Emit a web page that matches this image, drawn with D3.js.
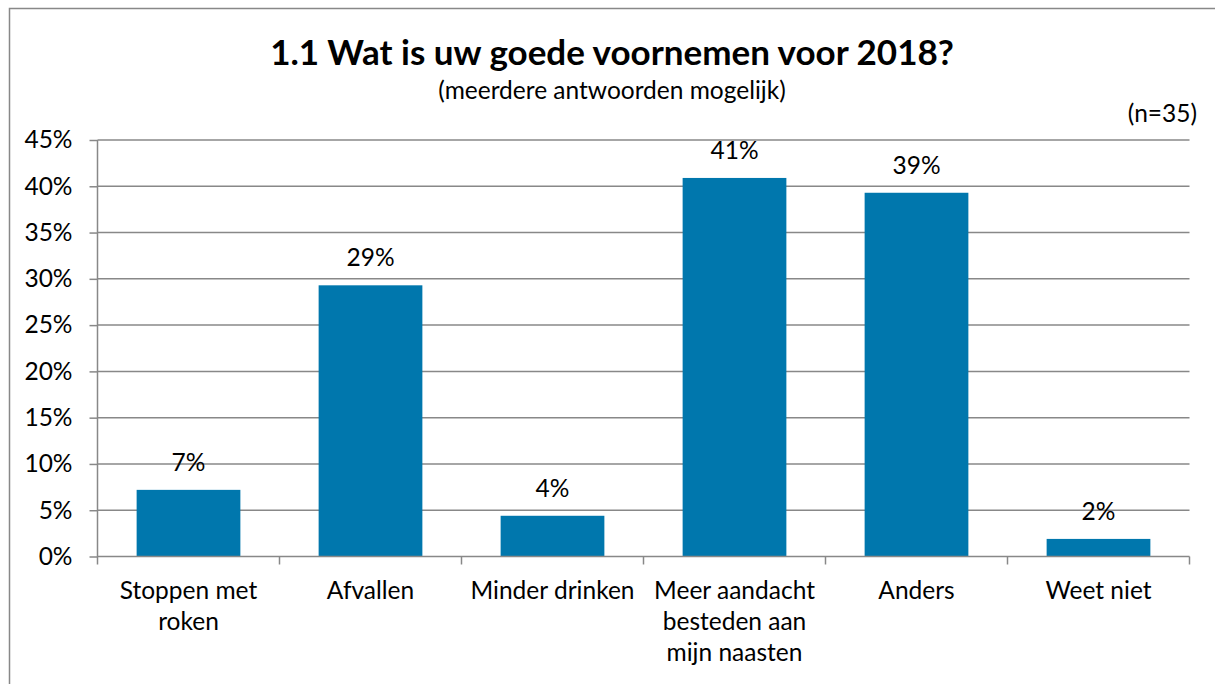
<!DOCTYPE html>
<html>
<head>
<meta charset="utf-8">
<script src="https://cdn.jsdelivr.net/npm/d3@7"></script>
<style>
  body { margin: 0; background: #fff; }
  svg { font-family: Lato, "Open Sans", sans-serif; }
</style>
</head>
<body>
<div id="chart"></div>
<script>
var categories = [
	['Stoppen met', 'roken'],
	['Afvallen'],
	['Minder drinken'],
	['Meer aandacht', 'besteden aan', 'mijn naasten'],
	['Anders'],
	['Weet niet']
];
var values = [7.2, 29.3, 4.4, 40.9, 39.3, 1.9];
var yTicks = [0, 5, 10, 15, 20, 25, 30, 35, 40, 45];

var width = 1215,
	height = 684;
var plot = {left: 97.5, right: 1189.5, top: 140, bottom: 556.5};
var fontSize = 24.5;

var svg = d3.select('#chart')
		.append('svg')
		.attr('width', width)
		.attr('height', height)

// chart frame (right and bottom edges fall outside the picture)
svg.append('rect')
	.attr('x', 9.5).attr('y', 8.5)
	.attr('width', 1220).attr('height', 700)
	.attr('fill', 'none')
	.attr('stroke', '#888')
	.attr('stroke-width', 1.5)

svg.append('text')
	.attr('x', 612).attr('y', 65)
	.attr('text-anchor', 'middle')
	.attr('font-size', 35)
	.attr('font-weight', 'bold')
	.text('1.1 Wat is uw goede voornemen voor 2018?')

svg.append('text')
	.attr('x', 612).attr('y', 99)
	.attr('text-anchor', 'middle')
	.attr('font-size', fontSize)
	.text('(meerdere antwoorden mogelijk)')

svg.append('text')
	.attr('x', 1197).attr('y', 122)
	.attr('text-anchor', 'end')
	.attr('font-size', fontSize)
	.text('(n=35)')

var x = d3.scaleBand()
		.domain(d3.range(values.length))
		.range([plot.left, plot.right])
		.paddingInner(0.43)
		.paddingOuter(0.215)

var y = d3.scaleLinear()
		.domain([0, 45])
		.range([plot.bottom, plot.top])

// y ticks
var yAxis = svg.append('g')
	.attr('transform', `translate(${plot.left}, 0)`)
	.call(d3.axisLeft(y).tickValues(yTicks).tickSize(8).tickFormat(d => d + '%'))

yAxis.select('.domain').remove()
yAxis.selectAll('.tick line').attr('stroke', '#888').attr('stroke-width', 1.5)
yAxis.selectAll('.tick text')
	.attr('font-size', fontSize)
	.attr('fill', '#000')
	.attr('x', -25)
	.attr('font-family', 'Lato, sans-serif')

// gridlines
svg.append('g')
	.selectAll('line')
	.data(yTicks.filter(d => d > 0))
	.enter()
	.append('line')
	.attr('x1', plot.left).attr('x2', plot.right)
	.attr('y1', d => y(d)).attr('y2', d => y(d))
	.attr('stroke', '#888')
	.attr('stroke-width', 1.5)

// bars
svg.append('g')
	.selectAll('rect')
	.data(values)
	.enter()
	.append('rect')
	.attr('x', (d, i) => x(i))
	.attr('width', x.bandwidth())
	.attr('y', d => y(d))
	.attr('height', d => y(0) - y(d))
	.attr('fill', '#0077ad')

svg.append('g')
	.selectAll('text')
	.data(values)
	.enter()
	.append('text')
	.attr('x', (d, i) => x(i) + x.bandwidth() / 2)
	.attr('y', d => y(d) - 19)
	.attr('text-anchor', 'middle')
	.attr('font-size', fontSize)
	.text(d => Math.round(d) + '%')

// x axis
var step = (plot.right - plot.left) / values.length;
svg.append('line')
	.attr('x1', plot.left).attr('x2', plot.right)
	.attr('y1', plot.bottom).attr('y2', plot.bottom)
	.attr('stroke', '#888').attr('stroke-width', 1.5)
svg.append('line')
	.attr('x1', plot.left).attr('x2', plot.left)
	.attr('y1', plot.top).attr('y2', plot.bottom + 8)
	.attr('stroke', '#888').attr('stroke-width', 1.5)

svg.append('g')
	.selectAll('line')
	.data(d3.range(1, values.length + 1))
	.enter()
	.append('line')
	.attr('x1', d => plot.left + d * step).attr('x2', d => plot.left + d * step)
	.attr('y1', plot.bottom).attr('y2', plot.bottom + 8)
	.attr('stroke', '#888').attr('stroke-width', 1.5)

var labels = svg.append('g')
	.selectAll('text')
	.data(categories)
	.enter()
	.append('text')
	.attr('text-anchor', 'middle')
	.attr('font-size', fontSize)
	.attr('transform', (d, i) => `translate(${x(i) + x.bandwidth() / 2}, 599)`)

labels.selectAll('tspan')
	.data(d => d)
	.enter()
	.append('tspan')
	.attr('x', 0)
	.attr('y', (d, i) => i * 31)
	.text(d => d)
</script>
</body>
</html>
